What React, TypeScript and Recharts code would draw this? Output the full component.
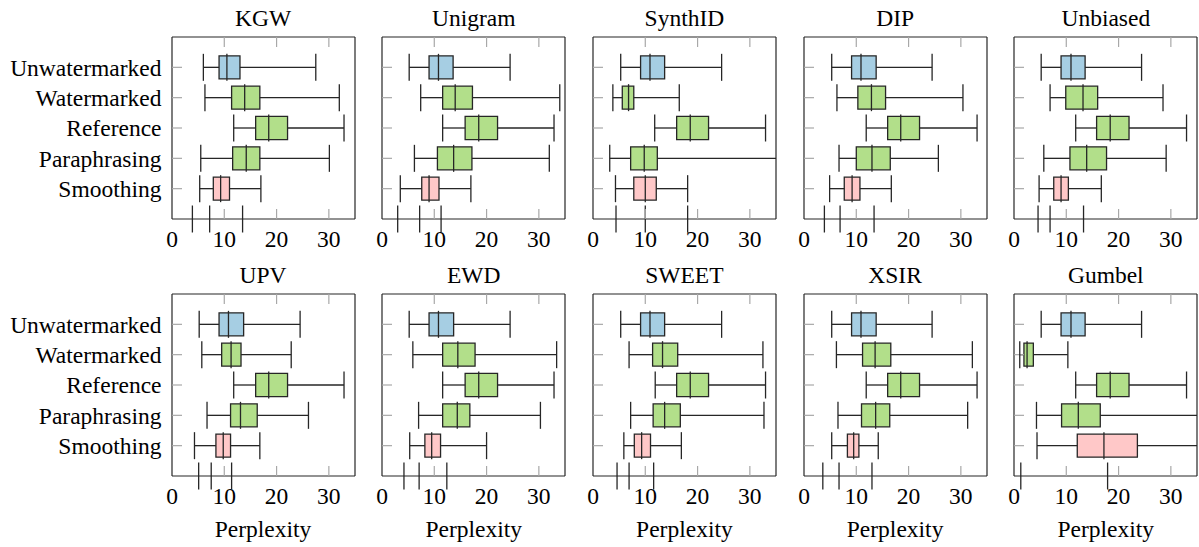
import { ComposedChart, XAxis, YAxis, Scatter, ReferenceArea, ReferenceLine } from "recharts";

const methods = ["KGW", "Unigram", "SynthID", "DIP", "Unbiased", "UPV", "EWD", "SWEET", "XSIR", "Gumbel"];
const rows = ["Unwatermarked", "Watermarked", "Reference", "Paraphrasing", "Smoothing"];
const xTicks = [0, 10, 20, 30];

// [low whisker, q1, median, q3, high whisker] for each row
const kgw = [
  [6.0, 9.0, 10.5, 13.0, 27.5],
  [6.3, 11.4, 13.9, 16.8, 32.0],
  [11.8, 16.0, 18.5, 22.1, 32.9],
  [5.5, 11.6, 14.2, 16.8, 30.1],
  [5.3, 7.9, 9.3, 11.0, 17.0],
];
const unigram = [
  [5.2, 9.0, 10.8, 13.6, 24.5],
  [7.4, 11.6, 14.0, 17.3, 34.0],
  [11.6, 15.9, 18.5, 22.1, 32.9],
  [6.2, 10.6, 13.7, 17.2, 32.0],
  [3.5, 7.6, 9.0, 10.9, 17.0],
];
const synthid = [
  [5.3, 9.1, 10.9, 13.7, 24.6],
  [3.8, 5.6, 6.8, 7.8, 16.5],
  [11.8, 16.0, 18.6, 22.1, 33.0],
  [3.2, 7.2, 9.8, 12.3, 37.0],
  [4.3, 7.8, 10.0, 12.1, 18.1],
];
const dip = [
  [5.3, 9.1, 10.9, 13.8, 24.5],
  [6.3, 10.3, 12.9, 15.6, 30.4],
  [11.9, 16.0, 18.5, 22.1, 33.1],
  [6.7, 10.0, 13.0, 16.5, 25.7],
  [4.9, 7.7, 9.2, 10.7, 16.7],
];
const unbiased = [
  [5.2, 9.0, 10.9, 13.6, 24.4],
  [6.9, 9.9, 13.2, 16.0, 28.5],
  [11.8, 15.8, 18.4, 22.0, 33.0],
  [5.7, 10.7, 13.9, 17.7, 29.1],
  [4.8, 7.6, 9.0, 10.4, 16.7],
];
const upv = [
  [5.2, 9.0, 10.8, 13.7, 24.5],
  [5.7, 9.5, 11.3, 13.2, 22.8],
  [11.8, 16.0, 18.5, 22.1, 32.9],
  [6.7, 11.2, 13.1, 16.3, 26.1],
  [4.3, 8.4, 9.8, 11.2, 16.8],
];
const ewd = [
  [5.2, 9.0, 10.8, 13.7, 24.5],
  [5.9, 11.6, 14.5, 17.8, 33.4],
  [11.6, 15.9, 18.5, 22.1, 32.9],
  [7.0, 11.6, 14.4, 16.8, 30.3],
  [5.3, 8.2, 9.5, 11.2, 20.0],
];
const sweet = [
  [5.3, 9.1, 10.9, 13.7, 24.6],
  [6.9, 11.4, 13.3, 16.2, 32.5],
  [11.9, 16.0, 18.6, 22.1, 33.0],
  [7.2, 11.5, 13.7, 16.7, 32.7],
  [5.9, 7.9, 9.3, 11.0, 16.9],
];
const xsir = [
  [5.3, 9.1, 10.9, 13.8, 24.5],
  [6.2, 11.2, 13.6, 16.6, 32.2],
  [11.9, 16.0, 18.5, 22.1, 33.1],
  [6.5, 11.0, 13.7, 16.4, 31.3],
  [5.3, 8.3, 9.5, 10.5, 14.2],
];
const gumbel = [
  [5.2, 9.0, 10.9, 13.6, 24.4],
  [1.1, 1.9, 2.5, 3.7, 10.3],
  [11.8, 15.8, 18.4, 22.0, 33.0],
  [4.3, 9.1, 12.3, 16.5, 37.0],
  [4.4, 12.1, 17.2, 23.6, 37.0],
];
const stats = [kgw, unigram, synthid, dip, unbiased, upv, ewd, sweet, xsir, gumbel];

// stray marks that sit on the x axis line in every panel
const axisMarks = [
  [3.9, 7.2, 13.5],
  [3.0, 7.2, 11.3],
  [4.4, 10.0, 18.1],
  [3.9, 6.9, 13.4],
  [4.6, 6.9, 13.3],
  [5.1, 7.5, 11.4],
  [4.2, 7.1, 12.4],
  [4.6, 6.9, 11.6],
  [3.6, 6.7, 13.0],
  [1.3, 17.9],
];

const rowFill = ["#a6cee3", "#b2df8a", "#b2df8a", "#b2df8a", "#ffc8c8"];
const SERIF = '"Liberation Serif", "Times New Roman", serif';
const INK = "#262626";
const GRAY = "#a8a8a8";
const FONT = 23.5;

const PLOT_W = 183;
const PLOT_H = 182;
const PLOT_X0 = 171.5;
const PLOT_DX = 210.7;
const PLOT_Y = [36.5, 293.5];
const MT = 10;
const MR = 10;
const XAXIS_H = 45;
const TICK = 10;
const BOX = 0.38; // half box height, in row units
const CAP = 13.5; // half length of caps / medians, px

function VTick(props: any) {
  const { cx, cy } = props;
  return <line x1={cx} x2={cx} y1={cy - CAP} y2={cy + CAP} stroke={INK} strokeWidth={1.3} />;
}

// bottom tick: gray inward tick (skipped at 0, where the frame is) + label
function BottomTick(props: any) {
  const { x, y, payload } = props;
  return (
    <g>
      {payload.value !== 0 && (
        <line x1={x} x2={x} y1={y - 11} y2={y - 11 - TICK} stroke={GRAY} strokeWidth={1.2} />
      )}
      <text
        x={x}
        y={y}
        dy="0.71em"
        textAnchor="middle"
        fill="#000"
        style={{ fontFamily: SERIF, fontSize: FONT }}
      >
        {payload.value}
      </text>
    </g>
  );
}

function Panel({ i }: { i: number }) {
  const col = i % 5;
  const row = Math.floor(i / 5);
  const left = PLOT_X0 + col * PLOT_DX;
  const top = PLOT_Y[row];
  const ml = col === 0 ? 170 : 20;
  const data = stats[i];
  const medians = data.map((s, r) => ({ x: s[2], y: r + 1 }));
  const caps = data.flatMap((s, r) => [
    { x: s[0], y: r + 1 },
    { x: s[4], y: r + 1 },
  ]);
  const marks = axisMarks[i].map((x) => ({ x, y: rows.length + 1 }));
  const rowTicks = rows.map((_, r) => r + 1);

  return (
    <>
      <div
        style={{
          position: "absolute",
          left,
          top: top - 30.5,
          width: PLOT_W,
          textAlign: "center",
          fontFamily: SERIF,
          fontSize: FONT,
          lineHeight: "24px",
        }}
      >
        {methods[i]}
      </div>
      <div style={{ position: "absolute", left: left - ml, top: top - MT }}>
        <ComposedChart
          width={ml + PLOT_W + MR}
          height={MT + PLOT_H + XAXIS_H}
          margin={{ top: MT - 1, right: MR - 1, bottom: 0, left: ml - 1 }}
        >
          <XAxis
            xAxisId={0}
            type="number"
            dataKey="x"
            domain={[0, 35]}
            allowDataOverflow
            ticks={xTicks}
            interval={0}
            height={XAXIS_H}
            tickLine={false}
            tickSize={0}
            tickMargin={11}
            axisLine={{ stroke: INK, strokeWidth: 1.2 }}
            tick={(p: any) => <BottomTick {...p} />}
          />
          <XAxis
            xAxisId="top"
            orientation="top"
            type="number"
            dataKey="x"
            domain={[0, 35]}
            ticks={[10, 20, 30]}
            interval={0}
            height={1}
            tickSize={-TICK}
            tickLine={{ stroke: GRAY, strokeWidth: 1.2 }}
            tickFormatter={() => ""}
            axisLine={{ stroke: INK, strokeWidth: 1.2 }}
          />
          <YAxis
            yAxisId={0}
            type="number"
            dataKey="y"
            domain={[0, rows.length + 1]}
            reversed
            ticks={rowTicks}
            interval={0}
            width={1}
            tickSize={-TICK}
            tickMargin={20.5}
            tickLine={{ stroke: GRAY, strokeWidth: 1.2 }}
            axisLine={{ stroke: INK, strokeWidth: 1.2 }}
            tickFormatter={(v: number) => (col === 0 ? rows[v - 1] : "")}
            tick={{ fill: "#000", fontSize: FONT, fontFamily: SERIF }}
          />
          <YAxis
            yAxisId="right"
            orientation="right"
            type="number"
            domain={[0, rows.length + 1]}
            reversed
            ticks={rowTicks}
            interval={0}
            width={1}
            tickSize={-TICK}
            tickLine={{ stroke: GRAY, strokeWidth: 1.2 }}
            axisLine={{ stroke: INK, strokeWidth: 1.2 }}
            tickFormatter={() => ""}
          />
          {data.map((s, r) => (
            <ReferenceArea
              key={`box${r}`}
              x1={s[1]}
              x2={s[3]}
              y1={r + 1 - BOX}
              y2={r + 1 + BOX}
              fill={rowFill[r]}
              fillOpacity={1}
              stroke={INK}
              strokeWidth={1.3}
              ifOverflow="hidden"
            />
          ))}
          {data.map((s, r) => (
            <ReferenceLine
              key={`lo${r}`}
              segment={[
                { x: s[0], y: r + 1 },
                { x: s[1], y: r + 1 },
              ]}
              stroke={INK}
              strokeWidth={1.3}
              ifOverflow="hidden"
            />
          ))}
          {data.map((s, r) => (
            <ReferenceLine
              key={`hi${r}`}
              segment={[
                { x: s[3], y: r + 1 },
                { x: s[4], y: r + 1 },
              ]}
              stroke={INK}
              strokeWidth={1.3}
              ifOverflow="hidden"
            />
          ))}
          <Scatter data={caps} shape={VTick} isAnimationActive={false} />
          <Scatter data={medians} shape={VTick} isAnimationActive={false} />
          <Scatter data={marks} xAxisId="top" shape={VTick} isAnimationActive={false} />
        </ComposedChart>
      </div>
      {row === 1 && (
        <div
          style={{
            position: "absolute",
            left,
            top: 517,
            width: PLOT_W,
            textAlign: "center",
            fontFamily: SERIF,
            fontSize: FONT,
            lineHeight: "24px",
          }}
        >
          Perplexity
        </div>
      )}
    </>
  );
}

export default function App() {
  return (
    <div style={{ position: "absolute", left: 0, top: 0, width: 1199, height: 547, background: "#fff" }}>
      {methods.map((m, i) => (
        <Panel key={m} i={i} />
      ))}
    </div>
  );
}
